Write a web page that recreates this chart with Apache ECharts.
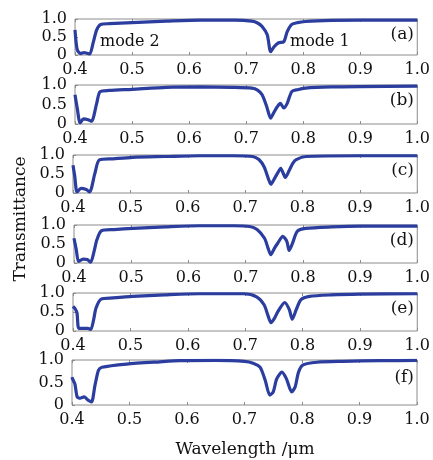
<!DOCTYPE html>
<html>
<head>
<meta charset="utf-8">
<script src="https://cdn.jsdelivr.net/npm/echarts@6/dist/echarts.min.js"></script>
<style>
  html, body { margin: 0; padding: 0; background: #fff; }
  #main { width: 433px; height: 460px; }
</style>
</head>
<body>
<div id="main"></div>
<script>
// 每个子图的数据 (波长 µm / 透射率)
var waveA = [0.400, 0.404, 0.410, 0.416, 0.421, 0.426, 0.432, 0.438, 0.445, 0.46, 0.50, 0.56, 0.62, 0.68, 0.71, 0.72, 0.728, 0.737, 0.743, 0.749, 0.757, 0.766, 0.772, 0.78, 0.79, 0.804, 0.85, 0.90, 0.95, 1.0];
var transA = [0.70, 0.14, 0.04, 0.07, 0.05, 0.03, 0.35, 0.70, 0.85, 0.87, 0.90, 0.94, 0.97, 0.97, 0.94, 0.89, 0.79, 0.56, 0.09, 0.23, 0.34, 0.37, 0.65, 0.85, 0.90, 0.93, 0.96, 0.97, 0.97, 0.97];

var waveB = [0.400, 0.404, 0.409, 0.415, 0.423, 0.429, 0.438, 0.444, 0.46, 0.50, 0.56, 0.62, 0.676, 0.71, 0.72, 0.728, 0.736, 0.743, 0.748, 0.754, 0.760, 0.766, 0.772, 0.78, 0.79, 0.804, 0.85, 0.90, 1.0];
var transB = [0.75, 0.40, 0.03, 0.13, 0.11, 0.07, 0.53, 0.83, 0.86, 0.89, 0.94, 0.95, 0.94, 0.92, 0.87, 0.75, 0.45, 0.15, 0.28, 0.43, 0.53, 0.41, 0.53, 0.83, 0.88, 0.92, 0.95, 0.96, 0.97];

var waveC = [0.400, 0.403, 0.407, 0.414, 0.423, 0.429, 0.438, 0.446, 0.47, 0.504, 0.56, 0.62, 0.678, 0.713, 0.724, 0.733, 0.740, 0.745, 0.750, 0.756, 0.762, 0.770, 0.777, 0.783, 0.789, 0.806, 0.90, 1.0];
var transC = [0.73, 0.45, 0.03, 0.12, 0.09, 0.03, 0.51, 0.87, 0.90, 0.94, 0.96, 0.98, 0.98, 0.96, 0.88, 0.69, 0.40, 0.23, 0.35, 0.51, 0.65, 0.41, 0.60, 0.78, 0.88, 0.96, 0.98, 0.98];

var waveD = [0.400, 0.404, 0.408, 0.416, 0.423, 0.429, 0.435, 0.44, 0.448, 0.47, 0.503, 0.56, 0.62, 0.68, 0.707, 0.72, 0.733, 0.739, 0.744, 0.750, 0.756, 0.765, 0.772, 0.776, 0.782, 0.79, 0.805, 0.85, 0.90, 1.0];
var transD = [0.65, 0.35, 0.04, 0.10, 0.09, 0.02, 0.30, 0.61, 0.85, 0.88, 0.91, 0.95, 0.98, 0.98, 0.96, 0.88, 0.65, 0.40, 0.22, 0.38, 0.52, 0.70, 0.57, 0.33, 0.52, 0.83, 0.91, 0.95, 0.97, 0.97];

var waveE = [0.400, 0.404, 0.407, 0.410, 0.417, 0.426, 0.431, 0.436, 0.44, 0.449, 0.47, 0.504, 0.56, 0.62, 0.698, 0.72, 0.733, 0.740, 0.745, 0.751, 0.757, 0.769, 0.777, 0.782, 0.789, 0.797, 0.812, 0.85, 0.90, 1.0];
var transE = [0.65, 0.58, 0.47, 0.07, 0.07, 0.07, 0.04, 0.30, 0.60, 0.84, 0.87, 0.91, 0.95, 0.98, 0.98, 0.90, 0.69, 0.40, 0.22, 0.33, 0.51, 0.75, 0.56, 0.31, 0.56, 0.82, 0.91, 0.95, 0.97, 0.98];

var waveF = [0.400, 0.401, 0.405, 0.409, 0.414, 0.421, 0.428, 0.434, 0.44, 0.446, 0.452, 0.495, 0.553, 0.588, 0.65, 0.70, 0.715, 0.727, 0.736, 0.744, 0.75, 0.756, 0.765, 0.773, 0.782, 0.788, 0.794, 0.802, 0.826, 0.871, 0.936, 1.0];
var transF = [0.62, 0.58, 0.47, 0.18, 0.15, 0.18, 0.11, 0.07, 0.44, 0.77, 0.84, 0.91, 0.96, 0.985, 0.99, 0.97, 0.93, 0.84, 0.55, 0.22, 0.29, 0.58, 0.73, 0.58, 0.29, 0.40, 0.73, 0.89, 0.95, 0.97, 0.985, 0.99];

var panelTags = ['(a)', '(b)', '(c)', '(d)', '(e)', '(f)'];
var xTicks = [0.4, 0.5, 0.6, 0.7, 0.8, 0.9, 1.0];
var yTicks = [0, 0.5, 1.0];

var waves = [waveA, waveB, waveC, waveD, waveE, waveF];
var trans = [transA, transB, transC, transD, transE, transF];

// 子图位置 (像素)
var boxes = [
    {left: 75, top: 19, width: 344, height: 36},
    {left: 75, top: 85, width: 343, height: 39},
    {left: 73, top: 155, width: 345, height: 38},
    {left: 74, top: 225, width: 344, height: 38},
    {left: 73, top: 293, width: 345, height: 38},
    {left: 72, top: 360, width: 345, height: 45}
];

var FONT = 'DejaVu Serif';
var lineColor = '#2b3d9e';
var txtColor = '#111';

var grids = [], xAxes = [], yAxes = [], series = [], graphics = [];
boxes.forEach(function (b, i) {
    grids.push({
        left: b.left, top: b.top, width: b.width, height: b.height,
        show: true, borderColor: '#8c8c8c', borderWidth: 1, backgroundColor: '#fff'
    });
    // 底部坐标轴
    xAxes.push({
        type: 'value', gridIndex: i, min: xTicks[0], max: xTicks[xTicks.length - 1], interval: 0.1,
        axisLine: {show: false},
        axisTick: {show: true, inside: true, length: 3, lineStyle: {color: '#8c8c8c'}},
        splitLine: {show: false},
        axisLabel: {
            margin: 7, color: txtColor, fontFamily: FONT, fontSize: 16,
            formatter: function (v) { return v.toFixed(1); }
        }
    });
    yAxes.push({
        type: 'value', gridIndex: i, min: yTicks[0], max: yTicks[2], interval: 0.5,
        axisLine: {show: false},
        axisTick: {show: true, inside: true, length: 3, lineStyle: {color: '#8c8c8c'}},
        splitLine: {show: false},
        axisLabel: {
            margin: 8, color: txtColor, fontFamily: FONT, fontSize: 16,
            formatter: function (v) { return v === 0 ? '0' : v.toFixed(1); }
        }
    });
    var pts = waves[i].map(function (w, k) { return [w, trans[i][k]]; });
    series.push({
        type: 'line', xAxisIndex: i, yAxisIndex: i, data: pts,
        showSymbol: false, smooth: 0.25, clip: true,
        lineStyle: {color: lineColor, width: 3.2}
    });
    graphics.push({
        type: 'text', right: 433 - 414, top: b.top + (i === 5 ? 9 : 7),
        style: {text: panelTags[i], fill: txtColor, font: '17px "' + FONT + '"'}
    });
});

// 顶部刻度
boxes.forEach(function (b, i) {
    xAxes.push({
        type: 'value', gridIndex: i, position: 'top', min: 0.4, max: 1.0, interval: 0.1,
        axisLine: {show: false},
        axisTick: {show: true, inside: true, length: 3, lineStyle: {color: '#8c8c8c'}},
        splitLine: {show: false}, axisLabel: {show: false}
    });
});

graphics.push({
    type: 'text', left: 100, top: 34,
    style: {text: 'mode 2', fill: txtColor, font: '16px "' + FONT + '"'}
});
graphics.push({
    type: 'text', left: 290, top: 34,
    style: {text: 'mode 1', fill: txtColor, font: '16px "' + FONT + '"'}
});
graphics.push({
    type: 'text', x: 245, y: 450,
    style: {text: 'Wavelength /μm', fill: txtColor, font: '17px "' + FONT + '"', textAlign: 'center', textVerticalAlign: 'middle'}
});
graphics.push({
    type: 'text', x: 21, y: 219, rotation: Math.PI / 2,
    style: {text: 'Transmittance', fill: txtColor, font: '17px "' + FONT + '"', textAlign: 'center', textVerticalAlign: 'middle'}
});

var chart = echarts.init(document.getElementById('main'));
chart.setOption({
    animation: false,
    backgroundColor: '#fff',
    grid: grids,
    xAxis: xAxes,
    yAxis: yAxes,
    series: series,
    graphic: graphics
});
</script>
</body>
</html>
